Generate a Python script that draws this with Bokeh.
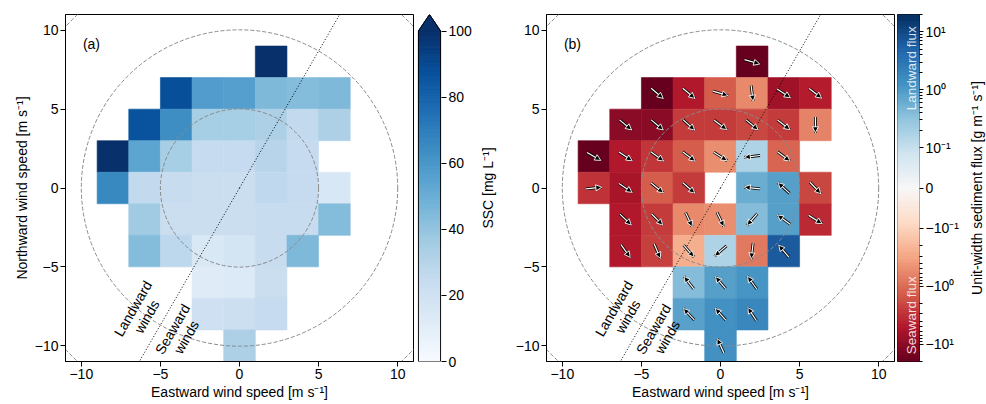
import numpy as np
from bokeh.plotting import figure
from bokeh.layouts import row
from bokeh.models import ColumnDataSource, FixedTicker, Arrow, NormalHead, Range1d
from bokeh.transform import linear_cmap
from bokeh.core.properties import value
from bokeh.embed import file_html
from bokeh.resources import INLINE

# ---------------- data (bin centres, 2 m/s bins) ----------------
cell_x = [2,
          -4, -2, 0, 2, 4, 6,
          -6, -4, -2, 0, 2, 4, 6,
          -8, -6, -4, -2, 0, 2, 4,
          -8, -6, -4, -2, 0, 2, 4, 6,
          -6, -4, -2, 0, 2, 4, 6,
          -6, -4, -2, 0, 2, 4,
          -2, 0, 2,
          -2, 0, 2,
          0]
cell_y = [8,
          6, 6, 6, 6, 6, 6,
          4, 4, 4, 4, 4, 4, 4,
          2, 2, 2, 2, 2, 2, 2,
          0, 0, 0, 0, 0, 0, 0, 0,
          -2, -2, -2, -2, -2, -2, -2,
          -4, -4, -4, -4, -4, -4,
          -6, -6, -6,
          -8, -8, -8,
          -10]
# suspended sediment concentration [mg/L]
ssc = [108,
       88, 58, 57, 45, 44, 45,
       87, 64, 35, 35, 33, 26, 33,
       100, 54, 35, 25, 25, 30, 25,
       66, 26, 24, 23, 23, 27, 25, 16,
       37, 23, 23, 23, 24, 24, 44,
       44, 28, 15, 18, 24, 45,
       12, 14, 23,
       21, 22, 25,
       33]
nan = float("nan")
# unit-width sediment flux [g m^-1 s^-1]
flux = [-25,
        -25, -5, -1.3, -0.55, -7, -4.5,
        -10, -10, -2.5, -2.5, -2.0, -2.5, -0.6,
        -25, -5, -2.8, -1.3, -0.5, 0.17, -1.1,
        -3.0, -6, -1.3, -2.5, nan, 0.6, 0.9, -2.0,
        -5, -2.5, -0.55, -0.5, 0.4, 0.9, -3.5,
        -5, -2.3, -0.25, 0.17, -0.75, 6.5,
        0.4, 0.9, 1.2,
        0.85, 1.3, 1.8,
        1.3]
# flux direction [deg, counter-clockwise from east]
flux_dir = [-16,
            -40, -40, -17, -83, -33, -38,
            -40, -40, -42, -37, -40, -38, -90,
            -30, -34, -36, -37, -33, -173, -37,
            6, -34, -39, -41, nan, 173, 137, -47,
            -44, -45, -65, -64, -131, 144, -32,
            -54, -67, -49, -139, -97, 130,
            128, 130, 126,
            133, 132, 123,
            115]

axis_ticks = [-10, -5, 0, 5, 10]
ssc_ticks = [0, 20, 40, 60, 80, 100]
flux_tick_values = [-10, -1, -0.1, 0, 0.1, 1, 10]
flux_tick_labels = ["−10¹", "−10⁰", "−10⁻¹", "0", "10⁻¹", "10⁰", "10¹"]
ring_radii = [5, 10, 15]
shore_angle = 60  # deg
wind_labels = ["Landward\nwinds", "Seaward\nwinds"]

# ---------------- style ----------------
FONT = "Liberation Sans"
BIN = 2.0
ARROW_LEN = 1.0
SSC_MAX = 100
SSC_EXT = 5
LINTHRESH, LINSCALE, FLUX_MAX = 0.1, 0.7, 20.0

BLUES_ANCH = ["#f7fbff", "#deebf7", "#c6dbef", "#9ecae1", "#6baed6",
              "#4292c6", "#2171b5", "#08519c", "#08306b"]
RDBU_ANCH = ["#67001f", "#b2182b", "#d6604d", "#f4a582", "#fddbc7", "#f7f7f7",
             "#d1e5f0", "#92c5de", "#4393c3", "#2166ac", "#053061"]


def interp_palette(anchors, n=256):
    rgb = np.array([[int(c[i:i + 2], 16) for i in (1, 3, 5)] for c in anchors], float)
    pos = np.linspace(0, 1, len(anchors))
    t = np.linspace(0, 1, n)
    ch = [np.interp(t, pos, rgb[:, k]) for k in range(3)]
    return ["#%02x%02x%02x" % (int(round(ch[0][i])), int(round(ch[1][i])), int(round(ch[2][i])))
            for i in range(n)]


blues = interp_palette(BLUES_ANCH)
rdbu = interp_palette(RDBU_ANCH)


def symlog(v):
    v = np.asarray(v, float)
    a = np.abs(v)
    out = np.where(a <= LINTHRESH, LINSCALE * a / LINTHRESH,
                   LINSCALE + np.log10(np.maximum(a, LINTHRESH) / LINTHRESH))
    return np.sign(v) * out


TMAX = float(symlog(FLUX_MAX))

H = 404
TOP = 14
BOT = 43
FS = "14px"


def fig(width, left, right, xr, yr, yloc="left"):
    f = figure(width=width, height=H, x_range=xr, y_range=yr, y_axis_location=yloc,
               output_backend="svg", toolbar_location=None,
               min_border_left=left, min_border_right=right, min_border_top=TOP,
               min_border_bottom=BOT)
    f.grid.visible = False
    return f


def style_axis(ax):
    ax.major_tick_in = 0
    ax.major_tick_out = 5
    ax.minor_tick_in = 0
    ax.minor_tick_out = 0
    ax.major_tick_line_color = "black"
    ax.minor_tick_line_color = "black"
    ax.axis_line_color = "black"
    ax.major_label_text_font = FONT
    ax.major_label_text_font_size = FS
    ax.major_label_text_color = "black"
    ax.major_label_text_line_height = 1.0
    ax.major_label_standoff = 2
    ax.axis_label_text_font = FONT
    ax.axis_label_text_font_size = FS
    ax.axis_label_text_font_style = "normal"
    ax.axis_label_text_color = "black"
    ax.axis_label_text_line_height = 1.0
    ax.axis_label_standoff = 2


def make_panel(tag, width, left, ylabel, mode):
    p = fig(width, left, 2, Range1d(-11, 11), Range1d(-11, 11))
    for ax in (p.xaxis, p.yaxis):
        style_axis(ax)
        ax.ticker = FixedTicker(ticks=axis_ticks, minor_ticks=[])
        ax.major_label_overrides = {t: str(t).replace("-", "−") for t in axis_ticks}
    p.outline_line_color = "black"
    p.outline_line_alpha = 1.0
    p.xaxis.axis_label = "Eastward wind speed [m s⁻¹]"
    if ylabel:
        p.yaxis.axis_label = "Northward wind speed [m s⁻¹]"

    if mode == "ssc":
        src = ColumnDataSource(dict(x=cell_x, y=cell_y, v=ssc))
        cmap = linear_cmap("v", blues, 0, SSC_MAX, high_color=blues[-1])
    else:
        fx = np.array(flux, float)
        ok = ~np.isnan(fx)
        xs = np.array(cell_x, float)[ok]
        ys = np.array(cell_y, float)[ok]
        ang = np.radians(np.array(flux_dir, float)[ok])
        src = ColumnDataSource(dict(x=xs, y=ys, v=fx[ok], t=symlog(fx[ok])))
        cmap = linear_cmap("t", rdbu, -TMAX, TMAX)
    p.rect(x="x", y="y", width=BIN, height=BIN, source=src,
           fill_color=cmap, line_color=cmap, line_width=0.6)

    p.circle(x=[0] * len(ring_radii), y=[0] * len(ring_radii), radius=ring_radii,
             fill_color=None, line_color="#8a8a8a", line_dash="4 2", line_width=1)
    p.ray(x=[0, 0], y=[0, 0], length=[0, 0], angle=[shore_angle, shore_angle + 180],
          angle_units="deg", line_color="black", line_dash="1 2", line_width=1)

    if mode == "flux":
        asrc = ColumnDataSource(dict(
            x0=xs - 0.5 * ARROW_LEN * np.cos(ang), y0=ys - 0.5 * ARROW_LEN * np.sin(ang),
            x1=xs + 0.5 * ARROW_LEN * np.cos(ang), y1=ys + 0.5 * ARROW_LEN * np.sin(ang)))
        p.add_layout(Arrow(x_start="x0", y_start="y0", x_end="x1", y_end="y1", source=asrc,
                           end=None, line_color="black", line_width=2.8))
        p.add_layout(Arrow(x_start="x0", y_start="y0", x_end="x1", y_end="y1", source=asrc,
                           end=NormalHead(size=6, fill_color="black", line_color="white",
                                          line_width=0.9),
                           line_color="white", line_width=1.2))

    p.text(x=[-6.3, -3.8], y=[-7.9, -9.2], text=wind_labels, angle=shore_angle,
           angle_units="deg", text_align="center", text_baseline="middle",
           text_font=value(FONT), text_font_size=FS, text_color="black",
           text_line_height=1.0)
    p.text(x=[-9.9], y=[9.1], text=[tag], text_align="left", text_baseline="middle",
           text_font=value(FONT), text_font_size=FS, text_color="black")
    return p


def cbar_fig(width, left, right, xr, yr):
    c = fig(width, left, right, xr, yr, yloc="right")
    c.xaxis.visible = False
    style_axis(c.yaxis)
    c.yaxis.axis_line_color = None
    c.yaxis.minor_tick_out = 3
    return c


def label_fig(width, text):
    f = fig(width, width - 2, 0, Range1d(0, 1), Range1d(0, 1))
    f.outline_line_color = None
    f.xaxis.visible = False
    ax = f.yaxis
    style_axis(ax)
    ax.ticker = FixedTicker(ticks=[], minor_ticks=[])
    ax.axis_line_color = None
    ax.major_tick_out = 0
    ax.major_label_standoff = 0
    ax.axis_label_standoff = 0
    ax.axis_label = text
    return f


pa = make_panel("(a)", 415, 65, True, "ssc")

ca = cbar_fig(60, 2, 34, Range1d(-0.04, 1.04), Range1d(0, SSC_MAX + SSC_EXT))
ca.outline_line_color = None
ca.yaxis.ticker = FixedTicker(ticks=ssc_ticks, minor_ticks=[])
edges = np.linspace(0, SSC_MAX, len(blues) + 1)
ca.quad(left=0, right=1, bottom=edges[:-1], top=edges[1:], fill_color=blues,
        line_color=blues, line_width=1)
ca.patch(x=[0, 0.5, 1], y=[SSC_MAX, SSC_MAX + SSC_EXT, SSC_MAX], fill_color=blues[-1],
         line_color=blues[-1])
ca.line(x=[0, 0, 1, 1, 0.5, 0], y=[SSC_MAX, 0, 0, SSC_MAX, SSC_MAX + SSC_EXT, SSC_MAX],
        line_color="black", line_width=1)

ca_lab = label_fig(22, "SSC [mg L⁻¹]")

pb = make_panel("(b)", 399, 49, False, "flux")

cb = cbar_fig(65, 1, 40, Range1d(0, 1), Range1d(-TMAX, TMAX))
cb.outline_line_color = "black"
major_t = [float(v) for v in symlog(flux_tick_values)]
minor_vals = []
for d in (0.1, 1.0, 10.0):
    for k in range(2, 10):
        if k * d <= FLUX_MAX:
            minor_vals += [k * d, -k * d]
minor_t = [float(v) for v in symlog(minor_vals)]
cb.yaxis.ticker = FixedTicker(ticks=major_t, minor_ticks=minor_t)
cb.yaxis.major_label_overrides = {t: lab for t, lab in zip(major_t, flux_tick_labels)}
cb.yaxis.major_tick_out = 4
edges_t = np.linspace(-TMAX, TMAX, len(rdbu) + 1)
cb.quad(left=0, right=1, bottom=edges_t[:-1], top=edges_t[1:], fill_color=rdbu,
        line_color=rdbu, line_width=1)
cb.text(x=[0.62, 0.62], y=[2.07, -2.2], text=["Landward flux", "Seaward flux"], angle=90,
        angle_units="deg", text_align="center", text_baseline="middle",
        text_font=value(FONT), text_font_size="13.5px", text_color="white", text_alpha=0.85)

cb_lab = label_fig(25, "Unit-width sediment flux [g m⁻¹ s⁻¹]")

layout = row(pa, ca, ca_lab, pb, cb, cb_lab, spacing=0)
open("out.html", "w").write(file_html(layout, INLINE))
